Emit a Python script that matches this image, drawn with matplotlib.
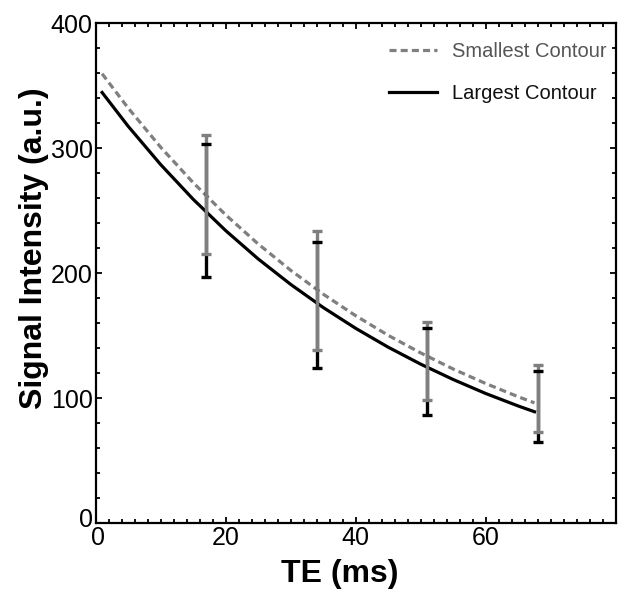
import matplotlib
matplotlib.use("Agg")
import matplotlib.pyplot as plt
from matplotlib.ticker import MultipleLocator
import matplotlib.transforms as mtransforms

plt.rcParams['font.family'] = ['Liberation Sans', 'DejaVu Sans']

# Fitted decay curves
te_curve = [1, 5, 10, 15, 20, 25, 30, 35, 40, 45, 50, 55, 60, 65, 67.5]
smallest_curve = [359.7, 332.3, 300.9, 272.5, 246.7, 223.4, 202.3, 183.2, 165.9,
                  150.2, 136.1, 123.2, 111.6, 101.0, 96.1]
largest_curve = [344.7, 317.7, 287.0, 259.2, 234.1, 211.4, 191.0, 172.5, 155.8,
                 140.7, 127.1, 114.8, 103.6, 93.6, 89.0]

# Measured points with error bars
te_points = [17, 34, 51, 68]
smallest_mean = [263.1, 185.9, 129.8, 99.7]
smallest_sd = [47.7, 47.5, 31.4, 26.8]
largest_mean = [250.2, 174.8, 121.0, 93.1]
largest_sd = [53.2, 50.5, 34.8, 28.7]

x_ticks = [0, 20, 40, 60]
y_ticks = [0, 100, 200, 300, 400]

fig = plt.figure(figsize=(6.29, 6.01), dpi=100)
ax = fig.add_axes([0.152, 0.130, 0.827, 0.831])

gray = '#7f7f7f'

ax.plot(te_curve, smallest_curve, color=gray, lw=2.3, ls=(0, (2.2, 1.3)),
        label='Smallest Contour', zorder=2)
ax.plot(te_curve, largest_curve, color='black', lw=2.3,
        label='Largest Contour', zorder=2)

eb_l = ax.errorbar(te_points, largest_mean, yerr=largest_sd, fmt='none',
                   ecolor='black', elinewidth=2.4, capsize=3.5, capthick=2.4,
                   zorder=3)
eb_s = ax.errorbar(te_points, smallest_mean, yerr=smallest_sd, fmt='none',
                   ecolor=gray, elinewidth=2.4, capsize=3.8, capthick=2.4,
                   zorder=4)
for cl in eb_l[1]:
    cl.set_zorder(5)
for cl in eb_s[1]:
    cl.set_zorder(6)

ax.set_xlim(0, 80)
ax.set_ylim(0, 400)
ax.set_xticks(x_ticks)
ax.set_yticks(y_ticks)
ax.xaxis.set_minor_locator(MultipleLocator(2))
ax.yaxis.set_minor_locator(MultipleLocator(20))
ax.tick_params(which='both', direction='in', top=True, right=True,
               width=1.3, labelsize=18, pad=2)
ax.tick_params(which='major', length=4)
ax.tick_params(which='minor', length=3)
for s in ax.spines.values():
    s.set_linewidth(1.6)

# nudge the two corner zeros apart a little, as in the reference
fig.canvas.draw()
ylab0 = ax.get_yticklabels()[0]
ylab0.set_transform(ylab0.get_transform() +
                    mtransforms.ScaledTranslation(0, 5 / 100, fig.dpi_scale_trans))
xlab0 = ax.get_xticklabels()[0]
xlab0.set_transform(xlab0.get_transform() +
                    mtransforms.ScaledTranslation(2 / 100, 0, fig.dpi_scale_trans))

ax.set_xlabel('TE (ms)', fontsize=23, fontweight='bold')
ax.set_ylabel('Signal Intensity (a.u.)', fontsize=23, fontweight='bold')
ax.xaxis.set_label_coords(0.47, -0.072)
ax.yaxis.set_label_coords(-0.09, 0.55)

leg = ax.legend(loc='upper right', frameon=False, fontsize=14.5,
                handlelength=2.4, labelspacing=1.15, handletextpad=0.75,
                bbox_to_anchor=(1.018, 0.999))
leg.get_texts()[0].set_color('#555555')
leg.get_texts()[1].set_color('#111111')

fig.savefig('out.png', dpi=100)
